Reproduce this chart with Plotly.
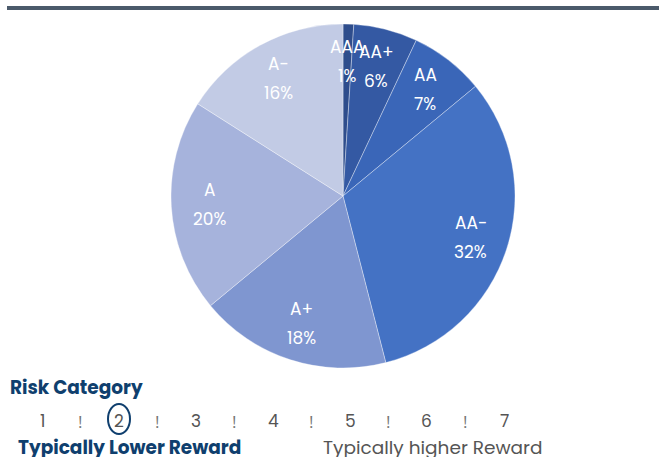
import math
import plotly.graph_objects as go

# ---- data ----
categories = ["AAA", "AA+", "AA", "AA-", "A+", "A", "A-"]
values = [1, 6, 7, 32, 18, 20, 16]
colors = ["#2e4d8c", "#3459a3", "#3a66b8", "#4472c4", "#7f96d0", "#a6b3dc", "#c2cbe5"]
risk_levels = ["1", "2", "3", "4", "5", "6", "7"]
selected_risk = "2"
title_text = "Risk Category"
low_text = "Typically Lower Reward"
high_text = "Typically higher Reward"

W, H = 659, 457
cx, cy, R = 343, 196, 172
FONT = "Poppins, Open Sans"

fig = go.Figure()
fig.add_trace(go.Pie(
    labels=categories, values=values, sort=False, direction="clockwise",
    rotation=0, marker=dict(colors=colors, line=dict(color="rgba(255,255,255,0.35)", width=1)),
    textinfo="none", hoverinfo="label+percent", showlegend=False,
    domain=dict(x=[(cx - R) / W, (cx + R) / W], y=[1 - (cy + R) / H, 1 - (cy - R) / H]),
))


def ann(x, y, text, size, color, xanchor="center", family=FONT, yshift=0):
    return dict(x=x / W, y=1 - y / H, xref="paper", yref="paper", text=text, showarrow=False,
                xanchor=xanchor, yanchor="middle", yshift=yshift,
                font=dict(family=family, size=size, color=color))


annotations = []
total = sum(values)
cum = 0
for lab, v in zip(categories, values):
    mid = (cum + v / 2) / total * 2 * math.pi
    cum += v
    rr = 0.78 * R
    px = cx + rr * math.sin(mid)
    py = cy - rr * math.cos(mid)
    pct = f"{round(v / total * 100)}%"
    annotations.append(ann(px, py, lab, 17, "white", yshift=14.5))
    annotations.append(ann(px, py, pct, 17, "white", yshift=-14.5))

annotations.append(ann(8, 387, f"<b>{title_text}</b>", 18.5, "#0f3f6e", xanchor="left"))

x0, step, yrow = 42, 77.0, 421
sel_x = None
for i, lvl in enumerate(risk_levels):
    x = x0 + i * step
    annotations.append(ann(x, yrow, lvl, 17, "#555555"))
    if lvl == selected_risk:
        sel_x = x
    if i < len(risk_levels) - 1:
        annotations.append(ann(x + step / 2, yrow, "!", 17, "#777777", family="Open Sans"))

annotations.append(ann(16, 447, f"<b>{low_text}</b>", 18.5, "#0f3f6e", xanchor="left"))
annotations.append(ann(321, 447, high_text, 18.5, "#555555", xanchor="left"))

shapes = [
    dict(type="line", xref="paper", yref="paper", x0=7 / W, x1=1, y0=1 - 8 / H, y1=1 - 8 / H,
         line=dict(color="#4b5a6b", width=4)),
    dict(type="circle", xref="paper", yref="paper",
         x0=(sel_x - 11) / W, x1=(sel_x + 11) / W, y0=1 - 434 / H, y1=1 - 404 / H,
         line=dict(color="#0f3f6e", width=2)),
]

fig.update_layout(width=W, height=H, margin=dict(l=0, r=0, t=0, b=0),
                  paper_bgcolor="white", plot_bgcolor="white",
                  annotations=annotations, shapes=shapes)
fig.write_html("out.html", config={"displayModeBar": False},
               post_script="document.body.style.margin='0';document.body.style.overflow='hidden';")
